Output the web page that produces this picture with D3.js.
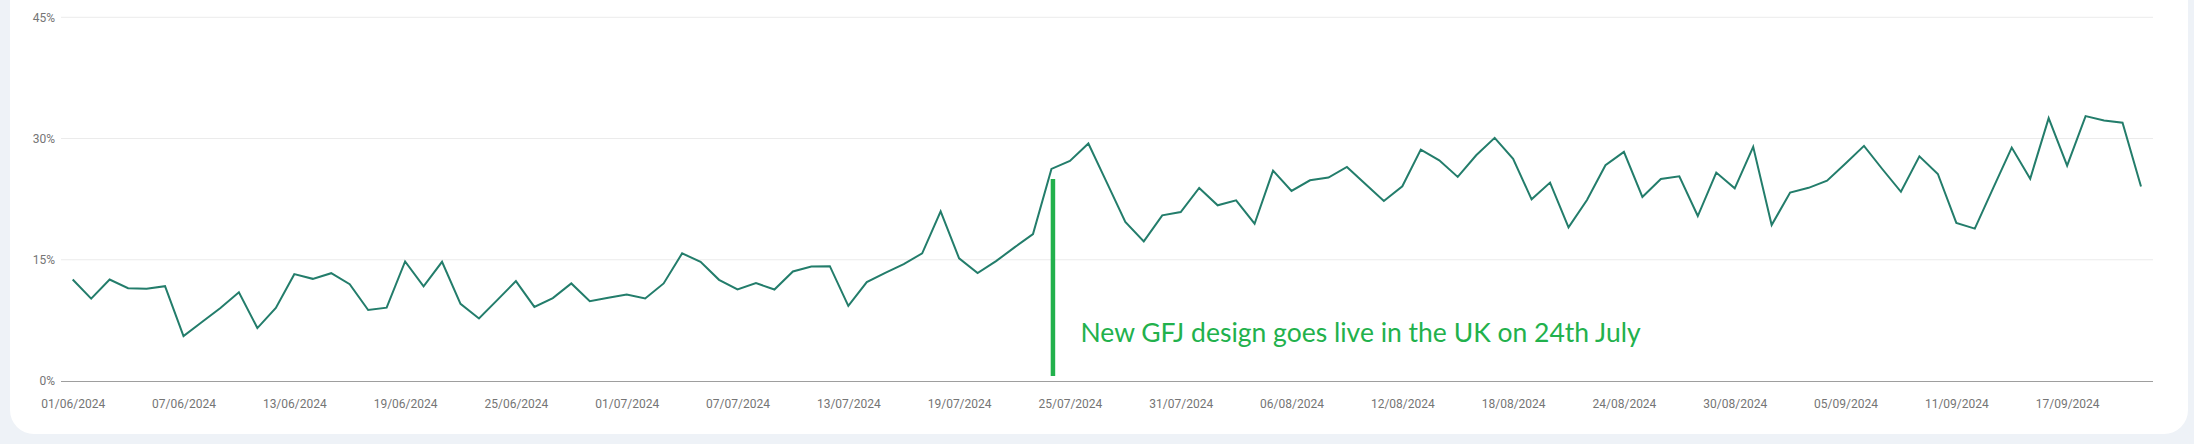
<!DOCTYPE html>
<html>
<head>
<meta charset="utf-8">
<script src="https://cdn.jsdelivr.net/npm/d3@7"></script>
<style>
  body { margin: 0; background: #eef2f7; }
  svg { display: block; }
</style>
</head>
<body>
<script>
// daily share, 01/06/2024 .. 21/09/2024 (%)
var startDate = "01/06/2024";
var values = [
  12.56, 10.19, 12.56, 11.48, 11.40, 11.73, 5.55, 7.30, 9.03, 10.98,
  6.55, 9.03, 13.22, 12.64, 13.34, 11.98, 8.78, 9.07, 14.79, 11.70,
  14.75, 9.55, 7.73, 10.04, 12.36, 9.17, 10.25, 12.07, 9.88, 10.29,
  10.70, 10.21, 12.07, 15.79, 14.75, 12.52, 11.32, 12.11, 11.32, 13.55,
  14.17, 14.21, 9.30, 12.23, 13.39, 14.46, 15.79, 20.99, 15.17, 13.35,
  14.83, 16.53, 18.18, 26.24, 27.23, 29.38, 24.55, 19.67, 17.27, 20.50,
  20.91, 23.88, 21.74, 22.36, 19.46, 26.03, 23.51, 24.83, 25.17, 26.49,
  24.38, 22.27, 24.09, 28.64, 27.31, 25.25, 27.93, 30.08, 27.48, 22.48,
  24.55, 19.01, 22.40, 26.69, 28.35, 22.77, 25.00, 25.33, 20.41, 25.79,
  23.84, 28.97, 19.30, 23.31, 23.90, 24.78, 26.90, 29.09, 26.20, 23.41,
  27.80, 25.61, 19.56, 18.85, 23.90, 28.88, 25.03, 32.53, 26.64, 32.78,
  32.24, 31.95, 24.07
];
var xTickLabels = ["01/06/2024","07/06/2024","13/06/2024","19/06/2024","25/06/2024",
  "01/07/2024","07/07/2024","13/07/2024","19/07/2024","25/07/2024","31/07/2024",
  "06/08/2024","12/08/2024","18/08/2024","24/08/2024","30/08/2024","05/09/2024",
  "11/09/2024","17/09/2024"];
var yTicks = [0, 15, 30, 45];
var noteDate = "24/07/2024";
var noteText = "New GFJ design goes live in the UK on 24th July";

var W = 2194, H = 444;
var parseDay = d3.timeParse("%d/%m/%Y");
var fmtDay = d3.timeFormat("%d/%m/%Y");
var t0 = parseDay(startDate);
var data = values.map(function (v, i) { return { date: d3.timeDay.offset(t0, i), v: v }; });

var svg = d3.select("body").append("svg").attr("width", W).attr("height", H);

// white card
svg.append("rect").attr("x", 10).attr("y", -40).attr("width", 2178).attr("height", 474)
  .attr("rx", 24).attr("fill", "#ffffff");

var x = d3.scaleTime().domain(d3.extent(data, function (d) { return d.date; })).range([72.7, 2141]);
var y = d3.scaleLinear().domain([0, 45]).range([381, 17.3]);

// gridlines
svg.append("g").selectAll("line").data(yTicks.filter(function (d) { return d > 0; }))
  .enter().append("line")
  .attr("x1", 61).attr("x2", 2153)
  .attr("y1", function (d) { return y(d); }).attr("y2", function (d) { return y(d); })
  .attr("stroke", "#ebebeb").attr("stroke-width", 1);

// y axis labels
var yAxis = d3.axisLeft(y).tickValues(yTicks).tickSize(0).tickPadding(0)
  .tickFormat(function (d) { return d + "%"; });
var gy = svg.append("g").attr("transform", "translate(55,0)").call(yAxis);
gy.select(".domain").remove();
gy.selectAll("text").attr("font-family", "Roboto").attr("font-size", 12).attr("fill", "#757575");

// x axis
var xAxis = d3.axisBottom(x).tickValues(xTickLabels.map(parseDay)).tickSize(0).tickPadding(18)
  .tickFormat(fmtDay);
var gx = svg.append("g").attr("transform", "translate(0,381)").call(xAxis);
gx.select(".domain").remove();
gx.selectAll("text").attr("font-family", "Roboto").attr("font-size", 12).attr("fill", "#757575");
svg.append("line").attr("x1", 61).attr("x2", 2153).attr("y1", 381.5).attr("y2", 381.5)
  .attr("stroke", "#9e9e9e").attr("stroke-width", 1);

// series
var line = d3.line().x(function (d) { return x(d.date); }).y(function (d) { return y(d.v); });
svg.append("path").datum(data)
  .attr("fill", "none").attr("stroke", "#237d6b").attr("stroke-width", 2)
  .attr("stroke-linejoin", "miter").attr("d", line);

// annotation
var nx = x(parseDay(noteDate)) + 1.5;
svg.append("line").attr("x1", nx).attr("x2", nx).attr("y1", 179).attr("y2", 376)
  .attr("stroke", "#22b14c").attr("stroke-width", 4.5);
var note = svg.append("text").attr("x", 1080.5).attr("y", 342)
  .attr("font-family", "Lato").attr("font-size", 26.5).attr("fill", "#22b14c")
  .text(noteText);
</script>
</body>
</html>
